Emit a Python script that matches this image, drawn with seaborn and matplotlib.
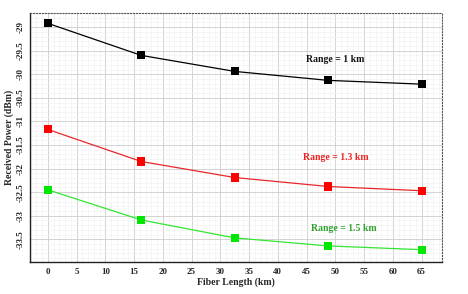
import pandas as pd
import numpy as np
import matplotlib
matplotlib.use('Agg')
import matplotlib.pyplot as plt
from matplotlib.ticker import MultipleLocator, FuncFormatter
import seaborn as sns

# Data
fiber_km = [0, 16.25, 32.5, 48.75, 65]
range_labels = ['Range = 1 km', 'Range = 1.3 km', 'Range = 1.5 km']
power_1km = [-28.92, -29.60, -29.94, -30.13, -30.21]
power_13km = [-31.17, -31.85, -32.19, -32.38, -32.47]
power_15km = [-32.45, -33.09, -33.47, -33.64, -33.72]
colors = ['#000000', '#ff0000', '#00e600']
line_colors = ['#000000', '#e8262b', '#33e633']
text_colors = ['#111111', '#ee2222', '#2fa12f']

df = pd.DataFrame({
    'Fiber Length (km)': fiber_km * 3,
    'Received Power (dBm)': power_1km + power_13km + power_15km,
    'Series': np.repeat(range_labels, len(fiber_km)),
})

sns.set_style('white')
plt.rcParams['font.family'] = ['Liberation Serif', 'DejaVu Serif']
plt.rcParams['axes.unicode_minus'] = False

fig, ax = plt.subplots(figsize=(4.68, 2.94), dpi=100)
fig.subplots_adjust(left=0.064, right=0.944, top=0.956, bottom=0.109)

sns.lineplot(data=df, x='Fiber Length (km)', y='Received Power (dBm)', hue='Series',
             palette=dict(zip(range_labels, line_colors)), linewidth=0.9, legend=False, ax=ax)
sns.scatterplot(data=df, x='Fiber Length (km)', y='Received Power (dBm)', hue='Series',
                palette=dict(zip(range_labels, colors)), marker='s', s=34, linewidth=0,
                legend=False, ax=ax, zorder=3)

# Series labels
label_pos = [(50, -29.68), (50, -31.77), (51.5, -33.28)]
for lab, (lx, ly), c in zip(range_labels, label_pos, text_colors):
    ax.text(lx, ly, lab, color=c, fontsize=7, fontweight='bold', ha='center', va='center')

ax.set_xlim(-3.1, 68.5)
ax.set_ylim(-33.98, -28.7)
ax.xaxis.set_major_locator(MultipleLocator(5))
ax.xaxis.set_minor_locator(MultipleLocator(1))
ax.yaxis.set_major_locator(MultipleLocator(0.5))
ax.yaxis.set_minor_locator(MultipleLocator(0.1))
ax.yaxis.set_major_formatter(FuncFormatter(lambda v, p: f'{v:g}'))
ax.grid(which='major', color='#cccccc', linewidth=0.6)
ax.grid(which='minor', color='#efefef', linewidth=0.4)
ax.set_axisbelow(True)

ax.tick_params(which='major', direction='inout', length=4, width=0.8, labelsize=6.5, pad=2)
ax.tick_params(which='minor', direction='inout', length=2, width=0.5)
ax.tick_params(axis='y', labelrotation=90)
for t in ax.get_yticklabels():
    t.set_va('center')
    t.set_fontweight('bold')
for t in ax.get_xticklabels():
    t.set_fontweight('bold')

for side in ['left', 'bottom']:
    ax.spines[side].set_linewidth(1.0)
    ax.spines[side].set_color('#222222')
for side in ['top', 'right']:
    ax.spines[side].set_linestyle(':')
    ax.spines[side].set_linewidth(0.8)
    ax.spines[side].set_color('#555555')

ax.set_xlabel('Fiber Length (km)', fontsize=7, fontweight='bold', labelpad=1)
ax.set_ylabel('Received Power (dBm)', fontsize=7, fontweight='bold', labelpad=2)

plt.savefig('out.png', dpi=100)
